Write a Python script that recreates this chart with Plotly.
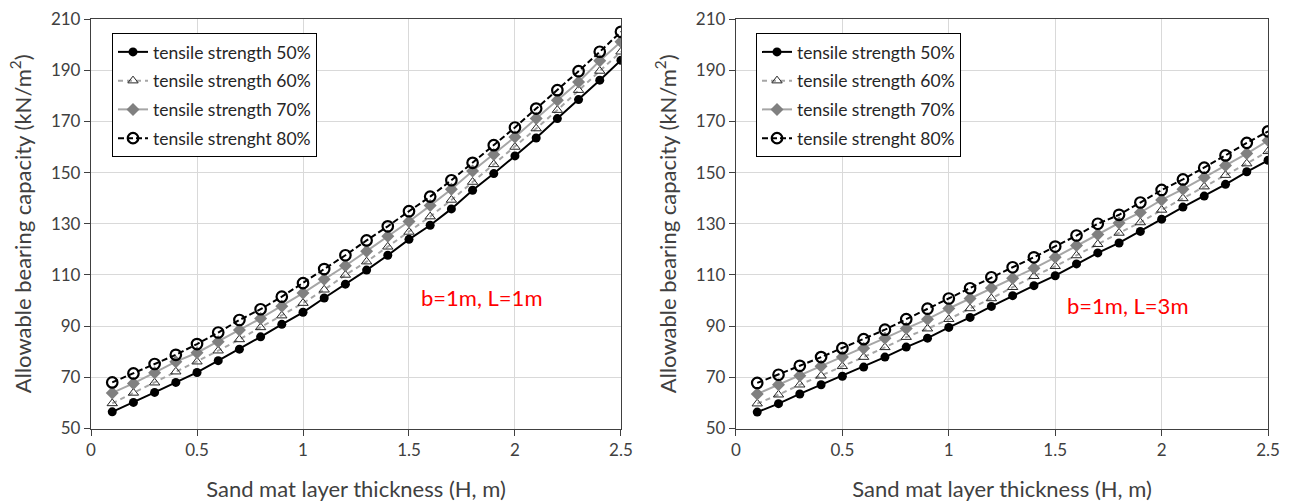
import plotly.graph_objects as go

# ---------------- data ----------------
thickness = [0.1, 0.2, 0.3, 0.4, 0.5, 0.6, 0.7, 0.8, 0.9, 1.0, 1.1, 1.2, 1.3,
             1.4, 1.5, 1.6, 1.7, 1.8, 1.9, 2.0, 2.1, 2.2, 2.3, 2.4, 2.5]

series_names = ["tensile strength 50%", "tensile strength 60%",
                "tensile strength 70%", "tensile strenght 80%"]

# panel 1 : b=1m, L=1m
left_50 = [56.5, 60.2, 64.1, 68.0, 71.9, 76.5, 81.0, 85.8, 90.7, 95.4, 101.0, 106.4, 111.9,
           117.7, 123.9, 129.4, 135.8, 143.1, 149.6, 156.5, 163.5, 171.1, 178.5, 186.1, 193.9]
left_60 = [59.8, 63.9, 67.9, 72.2, 76.1, 80.4, 84.8, 89.5, 94.1, 99.0, 104.2, 110.0, 115.2,
           121.0, 126.8, 132.8, 139.3, 146.3, 153.2, 160.0, 167.2, 174.4, 182.2, 189.7, 197.2]
left_70 = [63.9, 67.6, 71.8, 76.1, 79.6, 83.9, 88.5, 93.0, 97.8, 102.9, 108.3, 113.6, 119.3,
           125.1, 130.9, 137.1, 143.5, 150.6, 157.1, 163.9, 171.1, 178.3, 185.4, 193.7, 201.1]
left_80 = [68.0, 71.5, 75.2, 78.8, 83.0, 87.5, 92.4, 96.6, 101.5, 106.8, 112.3, 117.7, 123.5,
           129.0, 134.9, 140.6, 147.0, 153.8, 160.7, 167.6, 175.0, 182.2, 189.6, 197.2, 205.0]

# panel 2 : b=1m, L=3m
right_50 = [56.4, 59.7, 63.5, 67.1, 70.4, 74.0, 77.9, 81.8, 85.3, 89.5, 93.4, 97.7, 101.9,
            105.8, 109.7, 114.3, 118.6, 122.5, 127.0, 131.8, 136.5, 140.8, 145.4, 150.3, 154.8]
right_60 = [59.7, 63.2, 67.1, 70.6, 74.3, 77.9, 81.7, 85.7, 89.0, 92.7, 96.9, 100.8, 105.2,
            109.5, 113.4, 117.6, 122.0, 126.4, 130.5, 135.4, 139.9, 144.5, 149.0, 153.5, 158.3]
right_70 = [63.5, 67.1, 70.6, 74.3, 77.9, 81.4, 85.3, 89.1, 92.7, 96.9, 100.8, 104.9, 108.7,
            112.6, 116.9, 121.5, 125.8, 130.3, 134.4, 139.3, 143.5, 148.1, 152.8, 157.4, 162.5]
right_80 = [67.8, 71.0, 74.5, 77.9, 81.4, 84.9, 88.6, 92.7, 96.8, 100.8, 104.8, 109.1, 113.0,
            116.9, 121.1, 125.4, 130.0, 133.5, 138.3, 143.2, 147.3, 151.9, 156.7, 161.6, 166.1]

panel_labels = ["b=1m, L=1m", "b=1m, L=3m"]
x_title = "Sand mat layer thickness (H, m)"
y_title = "Allowable bearing capacity (kN/m<sup>2</sup>)"

# ---------------- styles ----------------
FONT = "Lato, 'Open Sans', sans-serif"
styles = [
    dict(line=dict(color="#000000", width=2),
         marker=dict(symbol="circle", size=9, color="#000000")),
    dict(line=dict(color="#a6a6a6", width=2, dash="5px,4px"),
         marker=dict(symbol="triangle-up-open", size=9, color="#262626",
                     line=dict(width=1, color="#262626"))),
    dict(line=dict(color="#a6a6a6", width=2),
         marker=dict(symbol="diamond", size=10, color="#808080")),
    dict(line=dict(color="#000000", width=2, dash="6px,3px"),
         marker=dict(symbol="circle-open", size=10.5, color="#000000",
                     line=dict(width=2.2, color="#000000"))),
]

fig = go.Figure()
panels = [
    ([left_50, left_60, left_70, left_80], "x", "y", "legend"),
    ([right_50, right_60, right_70, right_80], "x2", "y2", "legend2"),
]
for p, (vals, xa, ya, lg) in enumerate(panels):
    for i, (name, v) in enumerate(zip(series_names, vals)):
        fig.add_trace(go.Scatter(
            x=thickness, y=v, name=name, mode="lines+markers",
            xaxis=xa, yaxis=ya, legend=lg, legendgroup=f"{p}-{i}",
            line=styles[i]["line"], marker=styles[i]["marker"],
        ))

axis_common = dict(
    automargin=False,
    showline=True, linecolor="#404040", linewidth=1.3, mirror=True,
    ticks="outside", ticklen=6, tickcolor="#404040",
    showgrid=True, gridcolor="#d9d9d9", gridwidth=1, zeroline=False,
    tickfont=dict(family=FONT, size=17, color="#404040"),
)
title_font = dict(family=FONT, size=22, color="#404040")
xdom = [[0.0703, 0.4795], [0.5683, 0.9792]]
ydom = [0.1498, 0.9623]

legend_common = dict(
    bgcolor="#ffffff", bordercolor="#000000", borderwidth=1,
    font=dict(family=FONT, size=17.5, color="#262626"),
    traceorder="grouped", tracegroupgap=3, xanchor="left", yanchor="top",
    itemwidth=30,
)

fig.update_layout(
    width=1295, height=504,
    margin=dict(l=0, r=0, t=0, b=0, pad=0, autoexpand=False),
    paper_bgcolor="#ffffff", plot_bgcolor="#ffffff",
    showlegend=True,
    xaxis=dict(domain=xdom[0], range=[0, 2.5], dtick=0.5, anchor="y",
               title=dict(text=x_title, font=title_font, standoff=22), **axis_common),
    yaxis=dict(domain=ydom, range=[50, 210], tick0=50, dtick=20, anchor="x",
               title=dict(text=y_title, font=title_font, standoff=13), **axis_common),
    xaxis2=dict(domain=xdom[1], range=[0, 2.5], dtick=0.5, anchor="y2",
                title=dict(text=x_title, font=title_font, standoff=22), **axis_common),
    yaxis2=dict(domain=ydom, range=[50, 210], tick0=50, dtick=20, anchor="x2",
                title=dict(text=y_title, font=title_font, standoff=13), **axis_common),
    legend=dict(x=112 / 1295, y=1 - 33 / 504, **legend_common),
    legend2=dict(x=756 / 1295, y=1 - 33 / 504, **legend_common),
)

fig.add_annotation(x=1.84, y=101, xref="x", yref="y", text=panel_labels[0],
                   showarrow=False, font=dict(family=FONT, size=22, color="#ff0000"))
fig.add_annotation(x=1.84, y=98, xref="x2", yref="y2", text=panel_labels[1],
                   showarrow=False, font=dict(family=FONT, size=22, color="#ff0000"))

fig.write_html("out.html", config={"displayModeBar": False},
               post_script="document.body.style.margin='0';")
